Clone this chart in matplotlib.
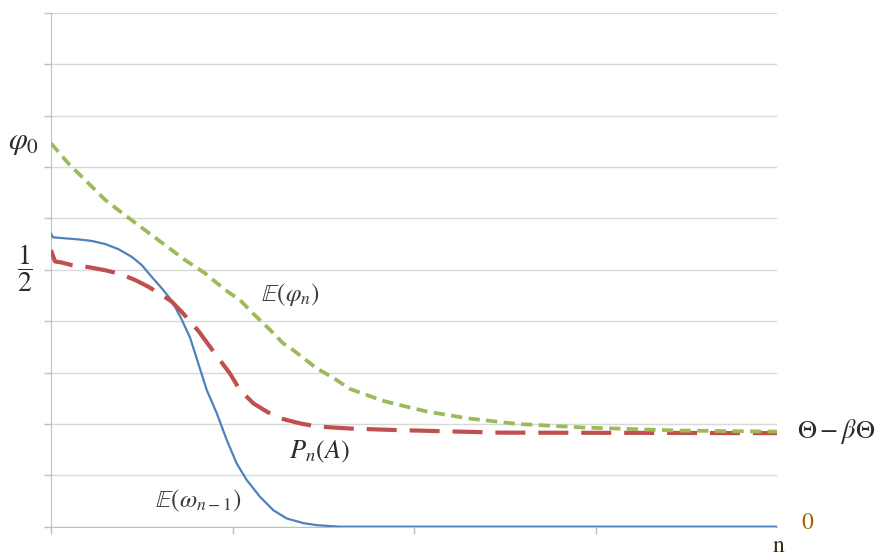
import matplotlib
matplotlib.use("Agg")
import matplotlib.pyplot as plt

plt.rcParams['mathtext.fontset'] = 'stix'
plt.rcParams['font.family'] = 'STIXGeneral'

# values (x: 0..4, y: grid units 0..10)
green_x = [0.0, 0.095, 0.187, 0.298, 0.408, 0.518, 0.628, 0.738, 0.849, 0.959,
           1.041, 1.113, 1.207, 1.278, 1.333, 1.464, 1.554, 1.647, 1.829, 1.906,
           2.072, 2.292, 2.567, 2.931, 3.466, 4.0]
green_y = [7.46, 7.07, 6.75, 6.36, 6.06, 5.77, 5.48, 5.19, 4.93, 4.61,
           4.41, 4.15, 3.83, 3.57, 3.44, 3.08, 2.90, 2.68, 2.45, 2.38,
           2.24, 2.11, 2.00, 1.93, 1.87, 1.85]

red_x = [0.0, 0.022, 0.059, 0.114, 0.206, 0.298, 0.380, 0.463, 0.536, 0.610,
         0.665, 0.720, 0.812, 0.876, 0.986, 1.041, 1.115, 1.188, 1.262, 1.372,
         1.464, 1.647, 1.905, 2.474, 4.0]
red_y = [5.38, 5.16, 5.14, 5.09, 5.05, 4.99, 4.92, 4.80, 4.67, 4.51,
         4.38, 4.18, 3.81, 3.50, 2.98, 2.66, 2.40, 2.24, 2.11, 2.01,
         1.95, 1.91, 1.88, 1.83, 1.82]

blue_x = [0.0, 0.011, 0.077, 0.150, 0.224, 0.298, 0.371, 0.445, 0.500, 0.555,
          0.610, 0.665, 0.716, 0.766, 0.858, 0.913, 0.968, 1.023, 1.078, 1.152,
          1.225, 1.299, 1.390, 1.464, 1.592, 4.0]
blue_y = [5.70, 5.63, 5.61, 5.59, 5.56, 5.50, 5.40, 5.25, 5.09, 4.86,
          4.64, 4.40, 4.06, 3.68, 2.66, 2.21, 1.69, 1.23, 0.91, 0.58,
          0.32, 0.16, 0.07, 0.03, 0.0, 0.0]

fig = plt.figure(figsize=(8.77, 5.57), dpi=100)
ax = fig.add_axes([51/877, 1 - 526.7/557, 726/877, 514/557])

ax.plot(blue_x, blue_y, color='#4f81bd', lw=1.6, zorder=3,
        solid_joinstyle='round')
ax.plot(red_x, red_y, color='#c0504d', lw=3.0, dashes=(7.2, 3.1), zorder=3,
        dash_joinstyle='round')
ax.plot(green_x, green_y, color='#9bbb59', lw=2.7, dashes=(3.0, 1.7), zorder=4,
        dash_joinstyle='round')

ax.set_xlim(0, 4)
ax.set_ylim(0, 10)
ax.set_yticks(range(0, 11))
ax.set_xticks([0, 1, 2, 3])
ax.set_yticklabels([])
ax.set_xticklabels([])
ax.grid(axis='y', color='#d9d9d9', lw=1.0)
ax.set_axisbelow(True)
ax.tick_params(axis='both', direction='out', length=5, width=1, color='#bfbfbf')
for s in ['top', 'right']:
    ax.spines[s].set_visible(False)
ax.spines['left'].set_color('#bfbfbf')
ax.spines['bottom'].set_color('#bfbfbf')

def px(x, y):
    return x / 877, 1 - y / 557

tc = '#2b2b2b'
fig.text(*px(24, 143), r'$\varphi_0$', fontsize=22, ha='center', va='center', color=tc)
fig.text(*px(25, 268), r'$\dfrac{1}{2}$', fontsize=20, ha='center', va='center', color=tc)
fig.text(*px(290, 295), r'$\mathbb{E}(\varphi_n)$', fontsize=18, ha='center', va='center', color='#3a3a3a')
fig.text(*px(319, 452), r'$P_n(A)$', fontsize=19, ha='center', va='center', color=tc)
fig.text(*px(198, 501), r'$\mathbb{E}(\omega_{n-1})$', fontsize=18, ha='center', va='center', color='#3a3a3a')
fig.text(*px(836, 432), r'$\Theta - \beta\Theta$', fontsize=19, ha='center', va='center', color=tc)
fig.text(*px(807, 523), '0', fontsize=17, ha='center', va='center', color='#9c6500')
fig.text(*px(779, 552), 'n', fontsize=17, ha='center', va='baseline', color='#3a2a10')

fig.savefig('out.png', dpi=100)
